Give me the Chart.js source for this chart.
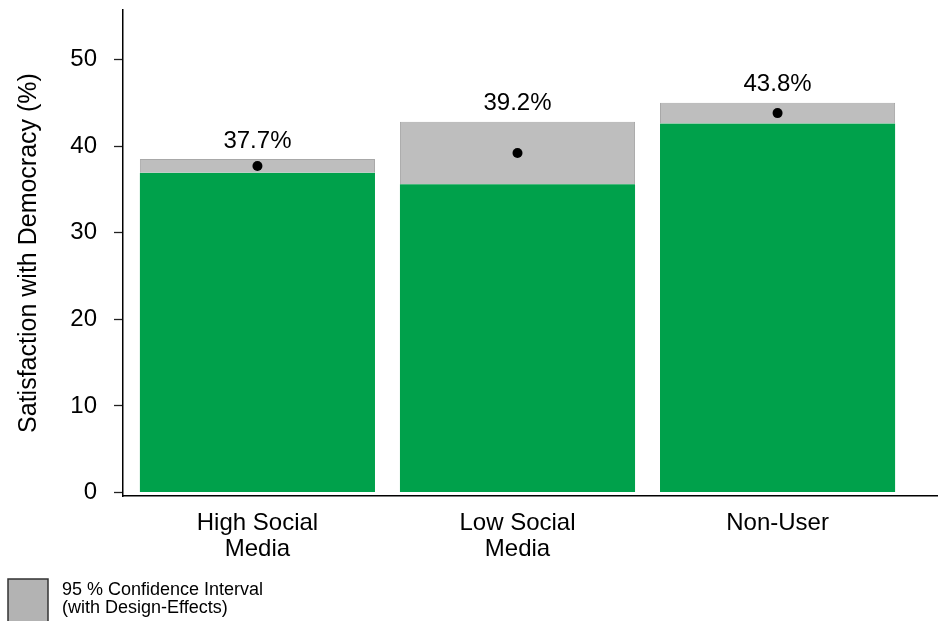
<!DOCTYPE html>
<html>
<head>
<meta charset="utf-8">
<script src="https://cdn.jsdelivr.net/npm/chart.js@4"></script>
<style>
  body { margin: 0; background: #fff; }
  #wrap { width: 938px; height: 621px; }
</style>
</head>
<body>
<div id="wrap"><canvas id="grafico" width="938" height="621"></canvas></div>
<script>
// -- dados --
const grupos = [['High Social', 'Media'], ['Low Social', 'Media'], ['Non-User']];
const media = [37.7, 39.2, 43.8];
const icInferior = [36.9, 35.6, 42.6];
const icSuperior = [38.5, 42.8, 45.0];
const yMin = -0.4;
const yMax = 55.7;
const yPasso = 10;

const FONTE = "'Liberation Sans', Arial, Helvetica, sans-serif";
const VERDE = '#00a14b';
const CINZA = '#bebebe';

// rótulos de % acima de cada intervalo
const rotulosPlugin = {
    id: 'rotulos',
    afterDatasetsDraw(chart) {
        const { ctx, scales } = chart;
        ctx.save();
        ctx.fillStyle = '#000';
        ctx.font = `24px ${FONTE}`;
        ctx.textAlign = 'center';
        ctx.textBaseline = 'middle';
        media.forEach((v, i) => {
            const x = scales.x.getPixelForValue(i);
            const y = scales.y.getPixelForValue(icSuperior[i]) - 18;
            ctx.fillText(v.toFixed(1) + '%', x, y);
        });
        ctx.restore();
    }
};

// legenda do intervalo de confiança (canto inferior esquerdo)
const legendaPlugin = {
    id: 'legendaIC',
    afterDraw(chart) {
        const { ctx } = chart;
        ctx.save();
        ctx.fillStyle = '#b3b3b3';
        ctx.fillRect(8, 579, 40, 46);
        ctx.strokeStyle = '#333';
        ctx.lineWidth = 1.5;
        ctx.strokeRect(8, 579, 40, 46);
        ctx.fillStyle = '#000';
        ctx.font = `18px ${FONTE}`;
        ctx.textAlign = 'left';
        ctx.textBaseline = 'middle';
        ctx.fillText('95 % Confidence Interval', 62, 590);
        ctx.fillText('(with Design-Effects)', 62, 608);
        ctx.restore();
    }
};

// zera o padding extra que o chart.js reserva para os rótulos das pontas
function semPadding(scale) {
    scale.paddingTop = 0;
    scale.paddingBottom = 0;
    scale.paddingLeft = 0;
    scale.paddingRight = 0;
}

window.onload = () => {
    const ctx = document.getElementById('grafico').getContext('2d');

    new Chart(ctx, {
        type: 'bar',
        data: {
            datasets: [
                {
                    type: 'line',
                    label: 'Média',
                    data: media.map((v, i) => ({ x: i, y: v })),
                    showLine: false,
                    pointRadius: 5,
                    pointBackgroundColor: '#000',
                    pointBorderColor: '#000',
                    pointBorderWidth: 0,
                    order: 0
                },
                {
                    label: 'IC 95%',
                    data: icInferior.map((v, i) => ({ x: i, y: [v, icSuperior[i]] })),
                    backgroundColor: CINZA,
                    borderColor: '#a8a8a8',
                    borderWidth: 1,
                    borderSkipped: 'bottom',
                    grouped: false,
                    barPercentage: 0.904,
                    categoryPercentage: 1,
                    order: 1
                },
                {
                    label: 'Limite inferior',
                    data: icInferior.map((v, i) => ({ x: i, y: v })),
                    backgroundColor: VERDE,
                    borderWidth: 0,
                    grouped: false,
                    barPercentage: 0.904,
                    categoryPercentage: 1,
                    order: 2
                }
            ]
        },
        options: {
            responsive: false,
            animation: false,
            layout: { autoPadding: false, padding: { left: 0, top: 10, right: 0, bottom: 50 } },
            plugins: {
                legend: { display: false },
                tooltip: { enabled: false }
            },
            scales: {
                x: {
                    type: 'linear',
                    offset: false,
                    min: -0.517,
                    max: 2.617,
                    afterBuildTicks: (scale) => {
                        scale.ticks = grupos.map((g, i) => ({ value: i }));
                    },
                    afterFit: (scale) => { scale.height = 75; semPadding(scale); },
                    grid: { display: true, offset: false, drawOnChartArea: false, drawTicks: false },
                    border: { display: true, color: '#000', width: 1.5 },
                    ticks: {
                        padding: 14,
                        color: '#000',
                        maxRotation: 0,
                        autoSkip: false,
                        font: { family: FONTE, size: 24, lineHeight: 1.1 },
                        callback: (v) => grupos[v] || ''
                    }
                },
                y: {
                    min: yMin,
                    max: yMax,
                    afterFit: (scale) => { scale.width = 123; semPadding(scale); },
                    grid: {
                        drawOnChartArea: false,
                        drawTicks: true,
                        tickLength: 9,
                        tickWidth: 1.3,
                        tickColor: '#222'
                    },
                    border: { display: true, color: '#000', width: 1.5 },
                    ticks: {
                        stepSize: yPasso,
                        includeBounds: false,
                        padding: 17,
                        color: '#000',
                        font: { family: FONTE, size: 24 }
                    },
                    title: {
                        display: true,
                        text: 'Satisfaction with Democracy (%)',
                        color: '#000',
                        padding: { top: 14, bottom: 0 },
                        font: { family: FONTE, size: 25 }
                    }
                }
            }
        },
        plugins: [rotulosPlugin, legendaPlugin]
    });
};
</script>
</body>
</html>
